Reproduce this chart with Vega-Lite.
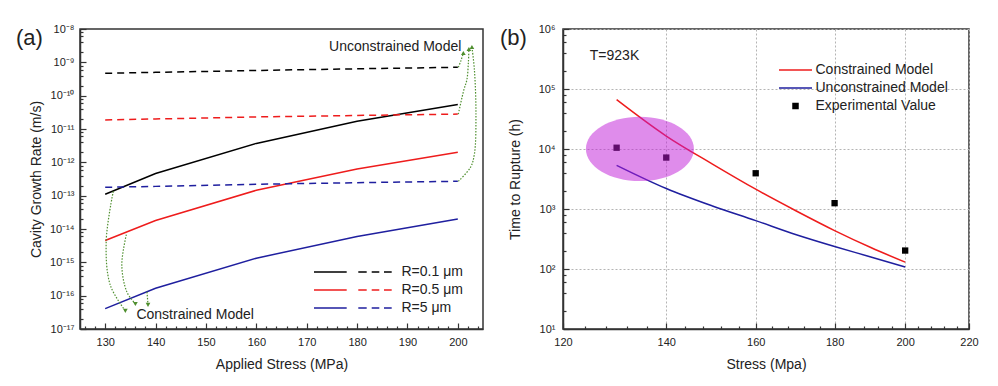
{
  "$schema": "https://vega.github.io/schema/vega-lite/v6.json",
  "padding": {"left": 15, "top": 22, "right": 0, "bottom": 0},
  "spacing": 15,
  "resolve": {"scale": {"color": "independent", "shape": "independent"}, "legend": {"color": "independent", "shape": "independent"}},
  "config": {
    "font": "Liberation Sans",
    "view": {"stroke": "#333333", "strokeWidth": 1.5},
    "axis": {"labelFontSize": 11, "labelColor": "#222222", "titleFontSize": 14, "titleFontWeight": "normal", "titleColor": "#222222", "domainColor": "#333333", "domainWidth": 1.5, "tickColor": "#333333", "tickWidth": 1.2, "labelFlush": false, "labelOverlap": false}
  },
  "datasets": {
    "growth": [
      {"stress": 130, "rate": 1.1e-13, "R": "R=0.1 μm", "model": "Constrained"},
      {"stress": 140, "rate": 4.6e-13, "R": "R=0.1 μm", "model": "Constrained"},
      {"stress": 160, "rate": 3.7e-12, "R": "R=0.1 μm", "model": "Constrained"},
      {"stress": 180, "rate": 1.7e-11, "R": "R=0.1 μm", "model": "Constrained"},
      {"stress": 200, "rate": 5.4e-11, "R": "R=0.1 μm", "model": "Constrained"},
      {"stress": 130, "rate": 4.5e-15, "R": "R=0.5 μm", "model": "Constrained"},
      {"stress": 140, "rate": 1.8e-14, "R": "R=0.5 μm", "model": "Constrained"},
      {"stress": 160, "rate": 1.45e-13, "R": "R=0.5 μm", "model": "Constrained"},
      {"stress": 180, "rate": 6.3e-13, "R": "R=0.5 μm", "model": "Constrained"},
      {"stress": 200, "rate": 2.0e-12, "R": "R=0.5 μm", "model": "Constrained"},
      {"stress": 130, "rate": 4.1e-17, "R": "R=5 μm", "model": "Constrained"},
      {"stress": 140, "rate": 1.66e-16, "R": "R=5 μm", "model": "Constrained"},
      {"stress": 160, "rate": 1.33e-15, "R": "R=5 μm", "model": "Constrained"},
      {"stress": 180, "rate": 6.0e-15, "R": "R=5 μm", "model": "Constrained"},
      {"stress": 200, "rate": 2.0e-14, "R": "R=5 μm", "model": "Constrained"},
      {"stress": 130, "rate": 4.7e-10, "R": "R=0.1 μm", "model": "Unconstrained"},
      {"stress": 140, "rate": 5.0e-10, "R": "R=0.1 μm", "model": "Unconstrained"},
      {"stress": 160, "rate": 5.7e-10, "R": "R=0.1 μm", "model": "Unconstrained"},
      {"stress": 180, "rate": 6.4e-10, "R": "R=0.1 μm", "model": "Unconstrained"},
      {"stress": 200, "rate": 7.1e-10, "R": "R=0.1 μm", "model": "Unconstrained"},
      {"stress": 130, "rate": 1.87e-11, "R": "R=0.5 μm", "model": "Unconstrained"},
      {"stress": 140, "rate": 2.0e-11, "R": "R=0.5 μm", "model": "Unconstrained"},
      {"stress": 160, "rate": 2.3e-11, "R": "R=0.5 μm", "model": "Unconstrained"},
      {"stress": 180, "rate": 2.55e-11, "R": "R=0.5 μm", "model": "Unconstrained"},
      {"stress": 200, "rate": 2.8e-11, "R": "R=0.5 μm", "model": "Unconstrained"},
      {"stress": 130, "rate": 1.78e-13, "R": "R=5 μm", "model": "Unconstrained"},
      {"stress": 140, "rate": 1.9e-13, "R": "R=5 μm", "model": "Unconstrained"},
      {"stress": 160, "rate": 2.2e-13, "R": "R=5 μm", "model": "Unconstrained"},
      {"stress": 180, "rate": 2.45e-13, "R": "R=5 μm", "model": "Unconstrained"},
      {"stress": 200, "rate": 2.7e-13, "R": "R=5 μm", "model": "Unconstrained"}
    ],
    "arrows": [
      {"id": "c1", "target": "Constrained Model", "seq": 0, "stress": 131.6, "rate": 1.35e-13},
      {"id": "c1", "target": "Constrained Model", "seq": 1, "stress": 130.2, "rate": 4.3e-15},
      {"id": "c1", "target": "Constrained Model", "seq": 2, "stress": 131.0, "rate": 2.1e-16},
      {"id": "c1", "target": "Constrained Model", "seq": 3, "stress": 134.0, "rate": 3.5e-17},
      {"id": "c2", "target": "Constrained Model", "seq": 0, "stress": 134.2, "rate": 6.8e-15},
      {"id": "c2", "target": "Constrained Model", "seq": 1, "stress": 133.3, "rate": 8.3e-16},
      {"id": "c2", "target": "Constrained Model", "seq": 2, "stress": 134.3, "rate": 1.3e-16},
      {"id": "c2", "target": "Constrained Model", "seq": 3, "stress": 136.0, "rate": 5.6e-17},
      {"id": "c3", "target": "Constrained Model", "seq": 0, "stress": 138.3, "rate": 1.3e-16},
      {"id": "c3", "target": "Constrained Model", "seq": 1, "stress": 138.5, "rate": 5.3e-17},
      {"id": "u1", "target": "Unconstrained Model", "seq": 0, "stress": 200.1, "rate": 7.1e-10},
      {"id": "u1", "target": "Unconstrained Model", "seq": 1, "stress": 200.6, "rate": 1.1e-9},
      {"id": "u1", "target": "Unconstrained Model", "seq": 2, "stress": 201.1, "rate": 1.9e-9},
      {"id": "u2", "target": "Unconstrained Model", "seq": 0, "stress": 200.1, "rate": 2.8e-11},
      {"id": "u2", "target": "Unconstrained Model", "seq": 1, "stress": 201.2, "rate": 1.5e-10},
      {"id": "u2", "target": "Unconstrained Model", "seq": 2, "stress": 201.8, "rate": 3.0e-10},
      {"id": "u2", "target": "Unconstrained Model", "seq": 3, "stress": 202.1, "rate": 1.0e-9},
      {"id": "u2", "target": "Unconstrained Model", "seq": 4, "stress": 202.2, "rate": 2.5e-9},
      {"id": "u3", "target": "Unconstrained Model", "seq": 0, "stress": 200.1, "rate": 2.7e-13},
      {"id": "u3", "target": "Unconstrained Model", "seq": 1, "stress": 202.5, "rate": 7.0e-13},
      {"id": "u3", "target": "Unconstrained Model", "seq": 2, "stress": 203.3, "rate": 1.8e-12},
      {"id": "u3", "target": "Unconstrained Model", "seq": 3, "stress": 203.6, "rate": 2.8e-11},
      {"id": "u3", "target": "Unconstrained Model", "seq": 4, "stress": 203.3, "rate": 5.8e-10},
      {"id": "u3", "target": "Unconstrained Model", "seq": 5, "stress": 202.8, "rate": 2.9e-9}
    ],
    "rupture": [
      {"stress": 130, "hours": 66450, "series": "Constrained Model"},
      {"stress": 140, "hours": 16440, "series": "Constrained Model"},
      {"stress": 150, "hours": 5600, "series": "Constrained Model"},
      {"stress": 160, "hours": 2138, "series": "Constrained Model"},
      {"stress": 170, "hours": 927, "series": "Constrained Model"},
      {"stress": 180, "hours": 437, "series": "Constrained Model"},
      {"stress": 190, "hours": 228, "series": "Constrained Model"},
      {"stress": 200, "hours": 130, "series": "Constrained Model"},
      {"stress": 130, "hours": 5350, "series": "Unconstrained Model"},
      {"stress": 140, "hours": 2197, "series": "Unconstrained Model"},
      {"stress": 150, "hours": 1122, "series": "Unconstrained Model"},
      {"stress": 160, "hours": 640, "series": "Unconstrained Model"},
      {"stress": 170, "hours": 372, "series": "Unconstrained Model"},
      {"stress": 180, "hours": 237, "series": "Unconstrained Model"},
      {"stress": 190, "hours": 159, "series": "Unconstrained Model"},
      {"stress": 200, "hours": 108, "series": "Unconstrained Model"}
    ],
    "experiment": [
      {"stress": 130, "hours": 10500, "series": "Experimental Value"},
      {"stress": 140, "hours": 7200, "series": "Experimental Value"},
      {"stress": 160, "hours": 3940, "series": "Experimental Value"},
      {"stress": 180, "hours": 1250, "series": "Experimental Value"},
      {"stress": 200, "hours": 203, "series": "Experimental Value"}
    ]
  },
  "hconcat": [
    {
      "width": 403,
      "height": 300,
      "title": {"text": "(a)", "anchor": "start", "frame": "group", "fontSize": 22, "fontWeight": "normal", "color": "#222222", "baseline": "middle", "dx": -64, "dy": 37, "offset": 0},
      "resolve": {"axis": {"x": "independent", "y": "independent"}},
      "layer": [
        {
          "layer": [
            {
              "data": {"name": "growth"},
              "transform": [{"filter": "datum.model === 'Constrained'"}],
              "mark": {"type": "line", "strokeWidth": 1.5},
              "encoding": {
                "x": {"field": "stress", "type": "quantitative", "scale": {"domain": [125, 205], "nice": false, "zero": false},
                  "axis": {"values": [130, 140, 150, 160, 170, 180, 190, 200], "tickSize": -6, "labelPadding": 13, "title": "Applied Stress (MPa)", "titlePadding": 10, "grid": false}},
                "y": {"field": "rate", "type": "quantitative", "scale": {"type": "log", "domain": [1e-17, 1e-8], "nice": false},
                  "axis": {"values": [1e-17, 1e-16, 1e-15, 1e-14, 1e-13, 1e-12, 1e-11, 1e-10, 1e-9, 1e-8], "tickSize": -6, "labelPadding": 12, "title": "Cavity Growth Rate (m/s)", "titlePadding": 6, "grid": false,
                    "labelExpr": "'10' + replace(replace(replace(replace(replace(replace(replace(replace(replace(replace(replace('' + round(log(datum.value) / LN10), regexp('-', 'g'), '⁻'), regexp('0', 'g'), '⁰'), regexp('1', 'g'), '¹'), regexp('2', 'g'), '²'), regexp('3', 'g'), '³'), regexp('4', 'g'), '⁴'), regexp('5', 'g'), '⁵'), regexp('6', 'g'), '⁶'), regexp('7', 'g'), '⁷'), regexp('8', 'g'), '⁸'), regexp('9', 'g'), '⁹')"}},
                "color": {"field": "R", "type": "nominal", "scale": {"domain": ["R=0.1 μm", "R=0.5 μm", "R=5 μm"], "range": ["#000000", "#ee1c1c", "#1f1f9f"]},
                  "legend": {"orient": "none", "legendX": 234, "legendY": 236, "title": null, "symbolType": "M0,0H6.54M8.86,0H10.54M11.54,0H13.06M14,0H15.54", "symbolSize": 100, "symbolOffset": -7, "labelOffset": 80.5, "labelFontSize": 14, "labelColor": "#222222", "rowPadding": 4, "padding": 0,
                    "encode": {"symbols": {"update": {"fill": {"value": "transparent"}, "strokeWidth": {"value": 1.5}, "strokeDash": {"value": []}, "opacity": {"value": 1},
                      "stroke": {"signal": "datum.value === 'R=0.1 μm' ? '#000000' : datum.value === 'R=0.5 μm' ? '#ee1c1c' : '#1f1f9f'"}}}}}}
              }
            },
            {
              "data": {"name": "growth"},
              "transform": [{"filter": "datum.model === 'Unconstrained'"}],
              "mark": {"type": "line", "strokeWidth": 1.5, "strokeDash": [7, 5]},
              "encoding": {
                "x": {"field": "stress", "type": "quantitative"},
                "y": {"field": "rate", "type": "quantitative"},
                "color": {"field": "R", "type": "nominal"}
              }
            },
            {
              "data": {"name": "arrows"},
              "transform": [
                {"joinaggregate": [{"op": "max", "field": "seq", "as": "last"}], "groupby": ["id"]},
                {"filter": "datum.seq === datum.last"}
              ],
              "mark": {"type": "point", "filled": true, "color": "#4f8f2f", "size": 22, "opacity": 1},
              "encoding": {
                "x": {"field": "stress", "type": "quantitative"},
                "y": {"field": "rate", "type": "quantitative"},
                "shape": {"field": "target", "type": "nominal", "scale": {"domain": ["Constrained Model", "Unconstrained Model"], "range": ["triangle-down", "triangle-up"]}, "legend": null}
              }
            },
            {
              "data": {"values": [{}]},
              "mark": {"type": "text", "text": "Unconstrained Model", "align": "right", "baseline": "middle", "fontSize": 14, "color": "#222222"},
              "encoding": {
                "x": {"datum": 200.7, "type": "quantitative"},
                "y": {"datum": 2.9e-9, "type": "quantitative"}
              }
            },
            {
              "data": {"values": [{}]},
              "mark": {"type": "text", "text": "Constrained Model", "align": "left", "baseline": "middle", "fontSize": 14, "color": "#222222"},
              "encoding": {
                "x": {"datum": 136.2, "type": "quantitative"},
                "y": {"datum": 2.7e-17, "type": "quantitative"}
              }
            }
          ]
        },
        {
          "data": {"name": "arrows"},
          "mark": {"type": "line", "interpolate": "catmull-rom", "stroke": "#4f8f2f", "strokeWidth": 1.2, "strokeDash": [1.5, 1.5]},
          "encoding": {
            "x": {"field": "stress", "type": "quantitative", "scale": {"domain": [125, 205], "nice": false, "zero": false},
              "axis": {"orient": "bottom", "values": [126, 128, 132, 134, 136, 138, 142, 144, 146, 148, 152, 154, 156, 158, 162, 164, 166, 168, 172, 174, 176, 178, 182, 184, 186, 188, 192, 194, 196, 198, 202, 204], "labels": false, "title": null, "domain": false, "grid": false, "tickSize": -3}},
            "y": {"field": "rate", "type": "quantitative", "scale": {"type": "log", "domain": [1e-17, 1e-8], "nice": false},
              "axis": {"orient": "left", "values": [2e-17, 4e-17, 6e-17, 8e-17, 2e-16, 4e-16, 6e-16, 8e-16, 2e-15, 4e-15, 6e-15, 8e-15, 2e-14, 4e-14, 6e-14, 8e-14, 2e-13, 4e-13, 6e-13, 8e-13, 2e-12, 4e-12, 6e-12, 8e-12, 2e-11, 4e-11, 6e-11, 8e-11, 2e-10, 4e-10, 6e-10, 8e-10, 2e-9, 4e-9, 6e-9, 8e-9], "labels": false, "title": null, "domain": false, "grid": false, "tickSize": -3}},
            "detail": {"field": "id", "type": "nominal"},
            "order": {"field": "seq", "type": "quantitative"}
          }
        }
      ]
    },
    {
      "width": 406,
      "height": 300,
      "title": {"text": "(b)", "anchor": "start", "frame": "group", "fontSize": 22, "fontWeight": "normal", "color": "#222222", "baseline": "middle", "dx": -63, "dy": 37, "offset": 0},
      "resolve": {"axis": {"x": "independent", "y": "independent"}},
      "layer": [
        {
          "layer": [
            {
              "data": {"name": "rupture"},
              "mark": {"type": "line", "strokeWidth": 1.5, "interpolate": "monotone"},
              "encoding": {
                "x": {"field": "stress", "type": "quantitative", "scale": {"type": "log", "domain": [120, 220], "nice": false},
                  "axis": {"values": [120, 140, 160, 180, 200, 220], "tickSize": -6, "labelPadding": 13, "title": "Stress (Mpa)", "titlePadding": 10, "grid": true, "gridDash": [2, 2], "gridColor": "#b4b4b4", "gridWidth": 1}},
                "y": {"field": "hours", "type": "quantitative", "scale": {"type": "log", "domain": [10, 1000000], "nice": false},
                  "axis": {"values": [10, 100, 1000, 10000, 100000, 1000000], "tickSize": -6, "labelPadding": 14, "title": "Time to Rupture (h)", "titlePadding": 16, "grid": true, "gridDash": [2, 2], "gridColor": "#b4b4b4", "gridWidth": 1,
                    "labelExpr": "'10' + replace(replace(replace(replace(replace(replace(replace(replace(replace(replace(replace('' + round(log(datum.value) / LN10), regexp('-', 'g'), '⁻'), regexp('0', 'g'), '⁰'), regexp('1', 'g'), '¹'), regexp('2', 'g'), '²'), regexp('3', 'g'), '³'), regexp('4', 'g'), '⁴'), regexp('5', 'g'), '⁵'), regexp('6', 'g'), '⁶'), regexp('7', 'g'), '⁷'), regexp('8', 'g'), '⁸'), regexp('9', 'g'), '⁹')"}},
                "color": {"field": "series", "type": "nominal", "scale": {"domain": ["Constrained Model", "Unconstrained Model", "Experimental Value"], "range": ["#ee1c1c", "#1f1f9f", "#000000"]},
                  "legend": {"orient": "none", "legendX": 216, "legendY": 34, "title": null, "symbolType": "M0,0H6.6", "symbolSize": 100, "symbolOffset": -7, "labelOffset": 29.5, "labelFontSize": 14, "labelColor": "#222222", "rowPadding": 4, "padding": 0,
                    "encode": {"symbols": {"update": {
                      "shape": {"signal": "datum.value === 'Experimental Value' ? 'M2.8,-0.5H3.8V0.5H2.8Z' : 'M0,0H6.6'"},
                      "fill": {"signal": "datum.value === 'Experimental Value' ? '#000000' : 'transparent'"},
                      "stroke": {"signal": "datum.value === 'Constrained Model' ? '#ee1c1c' : datum.value === 'Unconstrained Model' ? '#1f1f9f' : '#000000'"},
                      "strokeWidth": {"value": 1.5}, "strokeDash": {"value": []}, "opacity": {"value": 1}}}}}}
              }
            },
            {
              "data": {"name": "experiment"},
              "mark": {"type": "point", "shape": "square", "filled": true, "size": 40, "opacity": 1},
              "encoding": {
                "x": {"field": "stress", "type": "quantitative"},
                "y": {"field": "hours", "type": "quantitative"},
                "color": {"field": "series", "type": "nominal"}
              }
            },
            {
              "data": {"values": [{}]},
              "mark": {"type": "point", "shape": "M-1,0A1,0.595 0 1,1 1,0A1,0.595 0 1,1 -1,0Z", "size": 11664, "filled": true, "fill": "#c01ad8", "fillOpacity": 0.5, "opacity": 1, "strokeWidth": 0},
              "encoding": {
                "x": {"datum": 134.6, "type": "quantitative"},
                "y": {"datum": 10040, "type": "quantitative"}
              }
            }
          ]
        },
        {
          "data": {"values": [{}]},
          "mark": {"type": "text", "text": "T=923K", "align": "left", "baseline": "middle", "fontSize": 14, "color": "#222222"},
          "encoding": {
            "x": {"datum": 124.9, "type": "quantitative", "scale": {"type": "log", "domain": [120, 220], "nice": false},
              "axis": {"orient": "bottom", "values": [124, 128, 132, 136, 144, 148, 152, 156, 164, 168, 172, 176, 184, 188, 192, 196, 204, 208, 212, 216], "labels": false, "title": null, "domain": false, "grid": false, "tickSize": -3}},
            "y": {"datum": 356000, "type": "quantitative", "scale": {"type": "log", "domain": [10, 1000000], "nice": false},
              "axis": {"orient": "left", "values": [20, 40, 60, 80, 200, 400, 600, 800, 2000, 4000, 6000, 8000, 20000, 40000, 60000, 80000, 200000, 400000, 600000, 800000], "labels": false, "title": null, "domain": false, "grid": false, "tickSize": -3}}
          }
        }
      ]
    }
  ]
}
